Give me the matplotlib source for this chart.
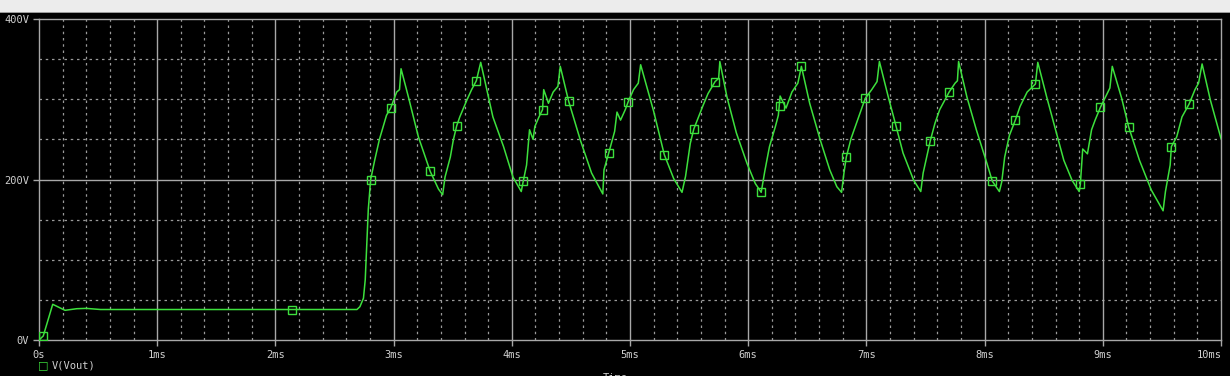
import matplotlib
matplotlib.use("Agg")
import matplotlib.pyplot as plt
from matplotlib.patches import Rectangle
from matplotlib.transforms import ScaledTranslation

# V(Vout) trace, time in ms, voltage in V
time_ms = [
    0.0, 0.036, 0.116, 0.22, 0.32, 0.40, 0.52, 2.69, 2.715, 2.745, 2.76, 2.786,
    2.806, 2.84, 2.88, 2.91, 2.94, 2.975, 3.0, 3.026, 3.05, 3.063,
    3.125, 3.21, 3.31, 3.38, 3.415,
    3.435, 3.48, 3.505, 3.534, 3.56, 3.62, 3.66, 3.70, 3.737,
    3.84, 3.93, 4.01, 4.08,
    4.097, 4.125, 4.15, 4.18, 4.195, 4.23, 4.26, 4.27, 4.31, 4.35, 4.39, 4.41,
    4.48, 4.58, 4.675, 4.77,
    4.78, 4.82, 4.87, 4.89, 4.92, 4.96, 4.985, 5.03, 5.07, 5.09,
    5.20, 5.29, 5.37, 5.44,
    5.47, 5.51, 5.54, 5.58, 5.62, 5.66, 5.72, 5.75, 5.76,
    5.82, 5.90, 5.99, 6.06, 6.11,
    6.14, 6.18, 6.23, 6.255, 6.27, 6.32, 6.37, 6.42, 6.45,
    6.52, 6.61, 6.69, 6.75, 6.79,
    6.81, 6.83, 6.87, 6.92, 6.99, 7.045, 7.09, 7.11,
    7.185, 7.25, 7.31, 7.40, 7.46,
    7.48, 7.54, 7.58, 7.62, 7.70, 7.75, 7.77, 7.78,
    7.85, 7.93, 8.02, 8.065, 8.125,
    8.145, 8.17, 8.21, 8.26, 8.30, 8.36, 8.43, 8.45,
    8.525, 8.60, 8.67, 8.74, 8.80,
    8.81, 8.83, 8.87, 8.905, 8.935, 8.98, 9.03, 9.06, 9.08,
    9.16, 9.22, 9.31, 9.41, 9.51,
    9.53, 9.57, 9.58, 9.625, 9.67, 9.73, 9.78, 9.81, 9.84,
    9.91, 10.0,
]
vout = [
    0, 5, 44.5, 37, 39, 39.4, 38, 38, 41.5, 52, 75, 163,
    200, 224, 250, 265, 280, 289, 299, 309, 312, 338,
    303, 253, 210, 188, 181,
    203, 228, 249, 267, 278, 299, 312, 323, 346,
    278, 241, 203, 185,
    198, 218, 262, 250, 266, 278, 287, 312, 295, 309, 316, 341,
    298, 249, 208, 182,
    212, 233, 260, 284, 274, 287, 297, 312, 320, 343,
    285, 231, 201, 184,
    204, 245, 263, 278, 293, 307, 322, 326, 347,
    303, 258, 220, 195, 184,
    210, 241, 266, 280, 304, 289, 309, 320, 341,
    295, 249, 212, 191, 184,
    208, 228, 251, 272, 301, 312, 322, 347,
    303, 267, 233, 199, 185,
    208, 248, 270, 287, 309, 320, 323, 347,
    303, 262, 220, 198, 185,
    197, 228, 255, 274, 291, 309, 319, 346,
    303, 262, 224, 199, 185,
    194, 238, 232, 262, 274, 290, 305, 314, 341,
    301, 265, 224, 187, 161,
    185, 218, 241, 253, 278, 294, 312, 320, 344,
    299, 251,
]

# square markers placed along the trace
marker_t = [0.036, 2.14, 2.806, 2.975, 3.31, 3.534, 3.70, 4.097, 4.26, 4.48,
            4.82, 4.985, 5.29, 5.54, 5.72, 6.11, 6.27, 6.45, 6.83, 6.99,
            7.25, 7.54, 7.70, 8.065, 8.26, 8.43, 8.81, 8.98, 9.22, 9.58, 9.73]
marker_v = [5, 38, 200, 289, 210, 267, 323, 198, 287, 298,
            233, 297, 231, 263, 322, 184, 292, 341, 228, 301,
            267, 248, 309, 198, 274, 319, 194, 290, 265, 241, 294]

x_ticks = list(range(0, 11))
x_labels = ["0s"] + [f"{i}ms" for i in range(1, 11)]
y_ticks = [0, 200, 400]
y_labels = ["0V", "200V", "400V"]

W, H = 1230, 376
fig = plt.figure(figsize=(W / 100, H / 100), dpi=100, facecolor="black")

# window title strip at the top
fig.patches.append(Rectangle((0, 1 - 12 / H), 1, 12 / H, transform=fig.transFigure,
                             facecolor="#ececec", edgecolor="none"))
fig.patches.append(Rectangle((0, 1 - 13 / H), 1, 1.2 / H, transform=fig.transFigure,
                             facecolor="#9a9a9a", edgecolor="none"))

ax = fig.add_axes([39 / W, 1 - 340 / H, (1221 - 39) / W, (340 - 19) / H])
ax.set_facecolor("black")

grey = "#a8a8a8"
# dotted minor grid
for x in [i * 0.2 for i in range(1, 50) if i % 5]:
    ax.axvline(x, color="#9a9a9a", lw=0.9, ls=(0, (2, 3)), zorder=1)
for y in [50, 100, 150, 250, 300, 350]:
    ax.axhline(y, color="#9a9a9a", lw=0.9, ls=(0, (2, 3)), zorder=1)
# solid major grid
for x in range(1, 10):
    ax.axvline(x, color=grey, lw=1.0, zorder=1)
ax.axhline(200, color=grey, lw=1.0, zorder=1)

ax.plot(time_ms, vout, color="#3de03d", lw=1.1, zorder=3)
ax.plot(marker_t, marker_v, ls="none", marker="s", ms=5.5, mfc="none",
        mec="#3de03d", mew=1.0, zorder=4)

ax.set_xlim(0, 10)
ax.set_ylim(0, 400)
ax.set_xticks(x_ticks)
ax.set_xticklabels(x_labels)
ax.set_yticks(y_ticks)
ax.set_yticklabels(y_labels)
for s in ax.spines.values():
    s.set_color(grey)
    s.set_linewidth(1.0)
ax.tick_params(colors=grey, length=4, width=1.0, labelcolor="#d0d0d0",
               labelsize=7.5, pad=3)
for lab in ax.get_xticklabels() + ax.get_yticklabels():
    lab.set_fontfamily("DejaVu Sans Mono")
# last time label sits left of its tick, as in the viewer
last = ax.get_xticklabels()[-1]
last.set_transform(last.get_transform() + ScaledTranslation(-12 / 100, 0, fig.dpi_scale_trans))

# legend entry and axis title
fig.text(43 / W, 1 - 365 / H, "□", color="#3de03d", fontsize=8,
         ha="center", va="center", family="DejaVu Sans")
fig.text(52 / W, 1 - 365 / H, "V(Vout)", color="#d0d0d0", fontsize=7.5,
         ha="left", va="center", family="DejaVu Sans Mono")
fig.text(615 / W, 1 - 378 / H, "Time", color="#d0d0d0", fontsize=7.5,
         ha="center", va="center", family="DejaVu Sans Mono")

fig.savefig("out.png", dpi=100, facecolor="black")
